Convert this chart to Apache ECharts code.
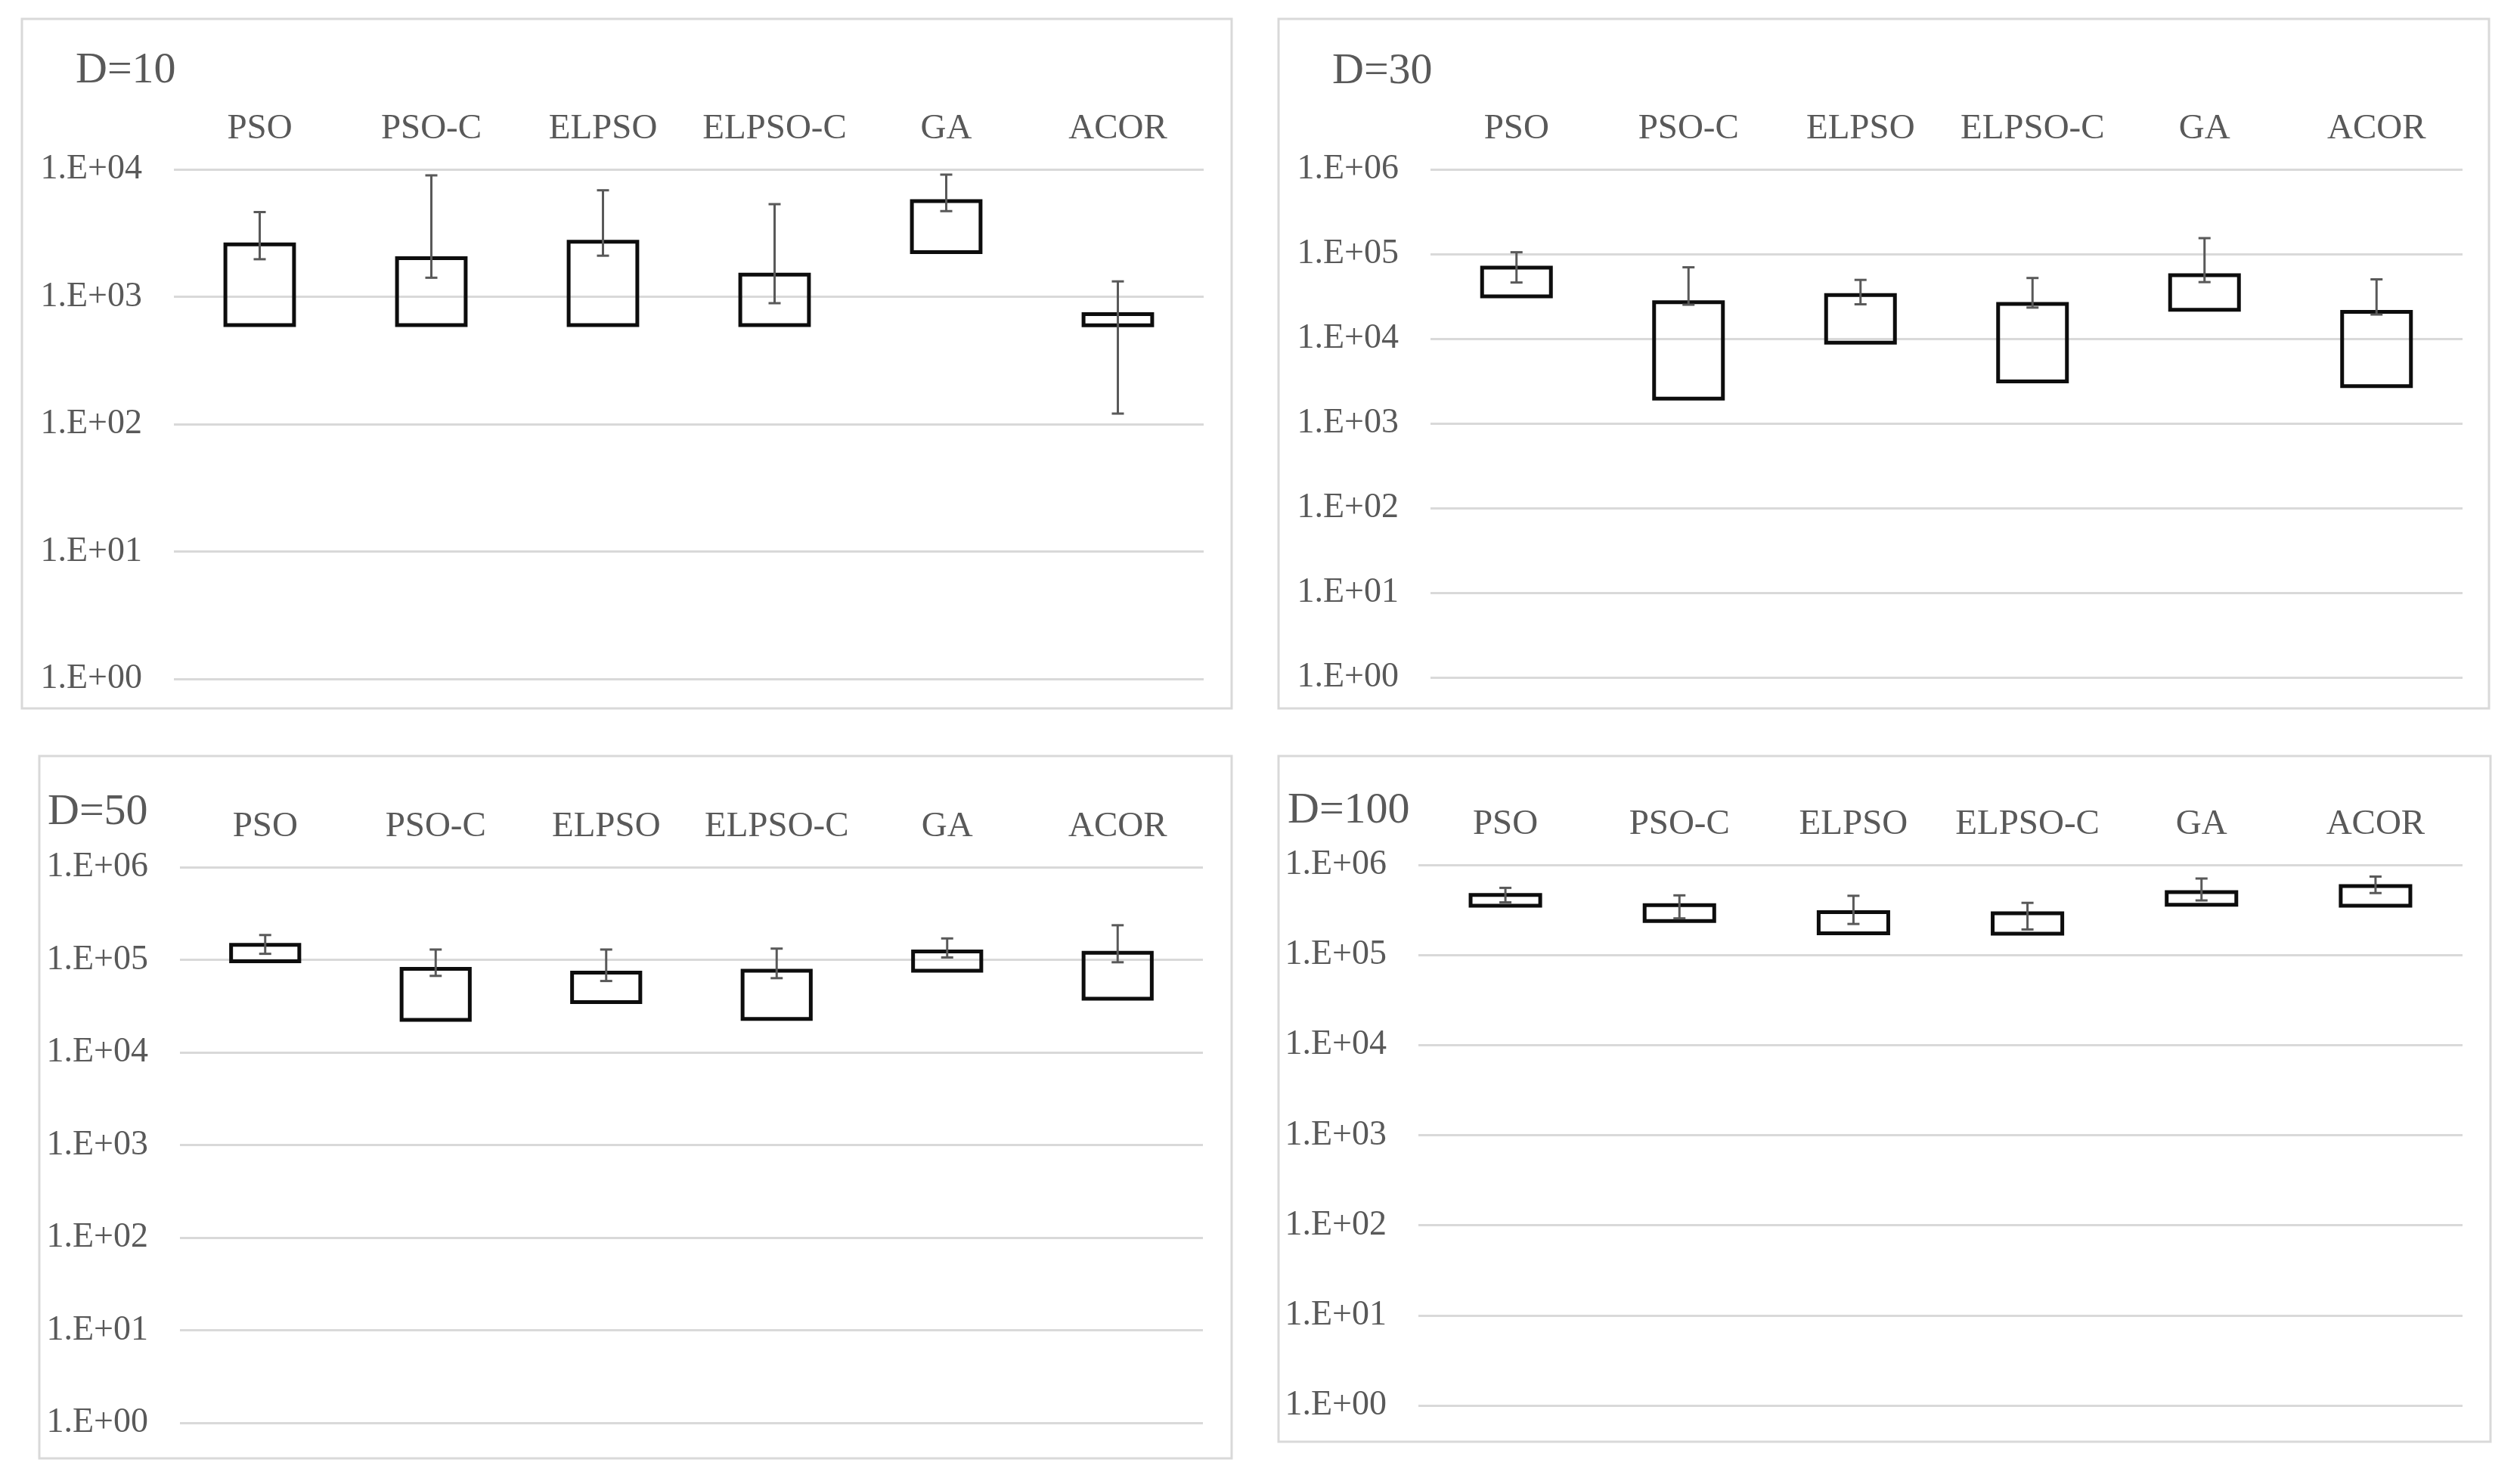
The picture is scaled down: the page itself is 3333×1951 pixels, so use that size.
<!DOCTYPE html>
<html>
<head>
<meta charset="utf-8">
<script src="https://cdn.jsdelivr.net/npm/echarts@6/dist/echarts.min.js"></script>
<style>
  html, body { margin: 0; padding: 0; background: #fff; }
  #chart { width: 3333px; height: 1951px; }
</style>
</head>
<body>
<div id="chart"></div>
<script>
const categories = ['PSO', 'PSO-C', 'ELPSO', 'ELPSO-C', 'GA', 'ACOR'];
const yTickLabels = ['1.E+00', '1.E+01', '1.E+02', '1.E+03', '1.E+04', '1.E+05', '1.E+06'];

// D=10
const d10BoxLow  = [600, 600, 600, 600, 2240, 597];
const d10BoxHigh = [2580, 2010, 2700, 1490, 5640, 730];
const d10ErrLow  = [1970, 1410, 2100, 890, 4700, 121];
const d10ErrHigh = [4620, 8970, 6850, 5330, 9090, 1320];

// D=30
const d30BoxLow  = [31600, 1960, 8970, 3130, 21900, 2750];
const d30BoxHigh = [69000, 27000, 32700, 25800, 56200, 20800];
const d30ErrLow  = [46100, 25200, 25500, 23300, 46600, 19300];
const d30ErrHigh = [105000, 69700, 49500, 52100, 154000, 50200];

// D=50
const d50BoxLow  = [96100, 22400, 34900, 23000, 76200, 37900];
const d50BoxHigh = [145000, 79800, 72800, 76200, 123000, 119000];
const d50ErrLow  = [116000, 67000, 59000, 63300, 106000, 94000];
const d50ErrHigh = [185000, 129000, 129000, 132000, 170000, 236000];

// D=100
const d100BoxLow  = [353000, 238000, 174000, 172000, 361000, 353000];
const d100BoxHigh = [464000, 357000, 299000, 291000, 499000, 583000];
const d100ErrLow  = [384000, 255000, 221000, 192000, 403000, 487000];
const d100ErrHigh = [556000, 459000, 454000, 379000, 706000, 742000];

const FONT = '"Liberation Serif", "Times New Roman", serif';
const TEXT = '#595959';
const LIGHT = '#d9d9d9';

// layout of the four panels (pixels)
const panels = [
  { title: 'D=10',  yMax: 1e4, data: [d10BoxLow, d10BoxHigh, d10ErrLow, d10ErrHigh],
    grid: { left: 230, top: 224, width: 1362, height: 674 }, frame: [29, 25, 1600, 912], titleAt: [100, 65] },
  { title: 'D=30',  yMax: 1e6, data: [d30BoxLow, d30BoxHigh, d30ErrLow, d30ErrHigh],
    grid: { left: 1892, top: 224, width: 1365, height: 672 }, frame: [1691, 25, 1601, 912], titleAt: [1762, 66] },
  { title: 'D=50',  yMax: 1e6, data: [d50BoxLow, d50BoxHigh, d50ErrLow, d50ErrHigh],
    grid: { left: 238, top: 1147, width: 1353, height: 735 }, frame: [52, 1000, 1577, 929], titleAt: [63, 1046] },
  { title: 'D=100', yMax: 1e6, data: [d100BoxLow, d100BoxHigh, d100ErrLow, d100ErrHigh],
    grid: { left: 1876, top: 1144, width: 1381, height: 715 }, frame: [1691, 1000, 1603, 907], titleAt: [1703, 1044] }
];

function renderBox(params, api) {
  const i = api.value(0);
  const half = api.size([1, 1])[0] * 0.2;
  const top = api.coord([i, api.value(2)]);
  const bot = api.coord([i, api.value(1)]);
  const eTop = api.coord([i, api.value(4)]);
  const eBot = api.coord([i, api.value(3)]);
  const x = top[0];
  const cap = 8;
  const errStyle = { stroke: TEXT, lineWidth: 3 };
  return {
    type: 'group',
    children: [
      { type: 'rect',
        shape: { x: x - half, y: top[1], width: half * 2, height: bot[1] - top[1] },
        style: { fill: 'none', stroke: '#0d0d0d', lineWidth: 5 } },
      { type: 'line', shape: { x1: x, y1: eTop[1], x2: x, y2: eBot[1] }, style: errStyle },
      { type: 'line', shape: { x1: x - cap, y1: eTop[1], x2: x + cap, y2: eTop[1] }, style: errStyle },
      { type: 'line', shape: { x1: x - cap, y1: eBot[1], x2: x + cap, y2: eBot[1] }, style: errStyle }
    ]
  };
}

const option = {
  animation: false,
  backgroundColor: '#fff',
  title: panels.map(p => ({
    text: p.title, left: p.titleAt[0], top: p.titleAt[1], padding: 0,
    textStyle: { fontFamily: FONT, fontSize: 58, fontWeight: 'normal', color: TEXT }
  })),
  graphic: panels.map(p => ({
    type: 'rect', silent: true, z: -1,
    shape: { x: p.frame[0], y: p.frame[1], width: p.frame[2], height: p.frame[3] },
    style: { fill: 'none', stroke: LIGHT, lineWidth: 3 }
  })),
  grid: panels.map(p => Object.assign({ outerBoundsMode: 'none' }, p.grid)),
  xAxis: panels.map((p, k) => ({
    type: 'category', gridIndex: k, position: 'top', data: categories,
    axisLine: { show: false, onZero: false }, axisTick: { show: false }, splitLine: { show: false },
    axisLabel: { interval: 0, margin: 30, fontFamily: FONT, fontSize: 47, color: TEXT }
  })),
  yAxis: panels.map((p, k) => ({
    type: 'log', logBase: 10, gridIndex: k, min: 1, max: p.yMax,
    axisLine: { show: false }, axisTick: { show: false },
    splitLine: { show: true, lineStyle: { color: LIGHT, width: 3 } },
    axisLabel: {
      margin: 42, fontFamily: FONT, fontSize: 46, color: TEXT,
      formatter: v => yTickLabels[Math.round(Math.log10(v))]
    }
  })),
  series: panels.map((p, k) => ({
    type: 'custom', xAxisIndex: k, yAxisIndex: k,
    renderItem: renderBox,
    encode: { x: 0, y: [1, 2, 3, 4] },
    data: categories.map((c, i) => [i, p.data[0][i], p.data[1][i], p.data[2][i], p.data[3][i]])
  }))
};

const chart = echarts.init(document.getElementById('chart'));
chart.setOption(option);
</script>
</body>
</html>
